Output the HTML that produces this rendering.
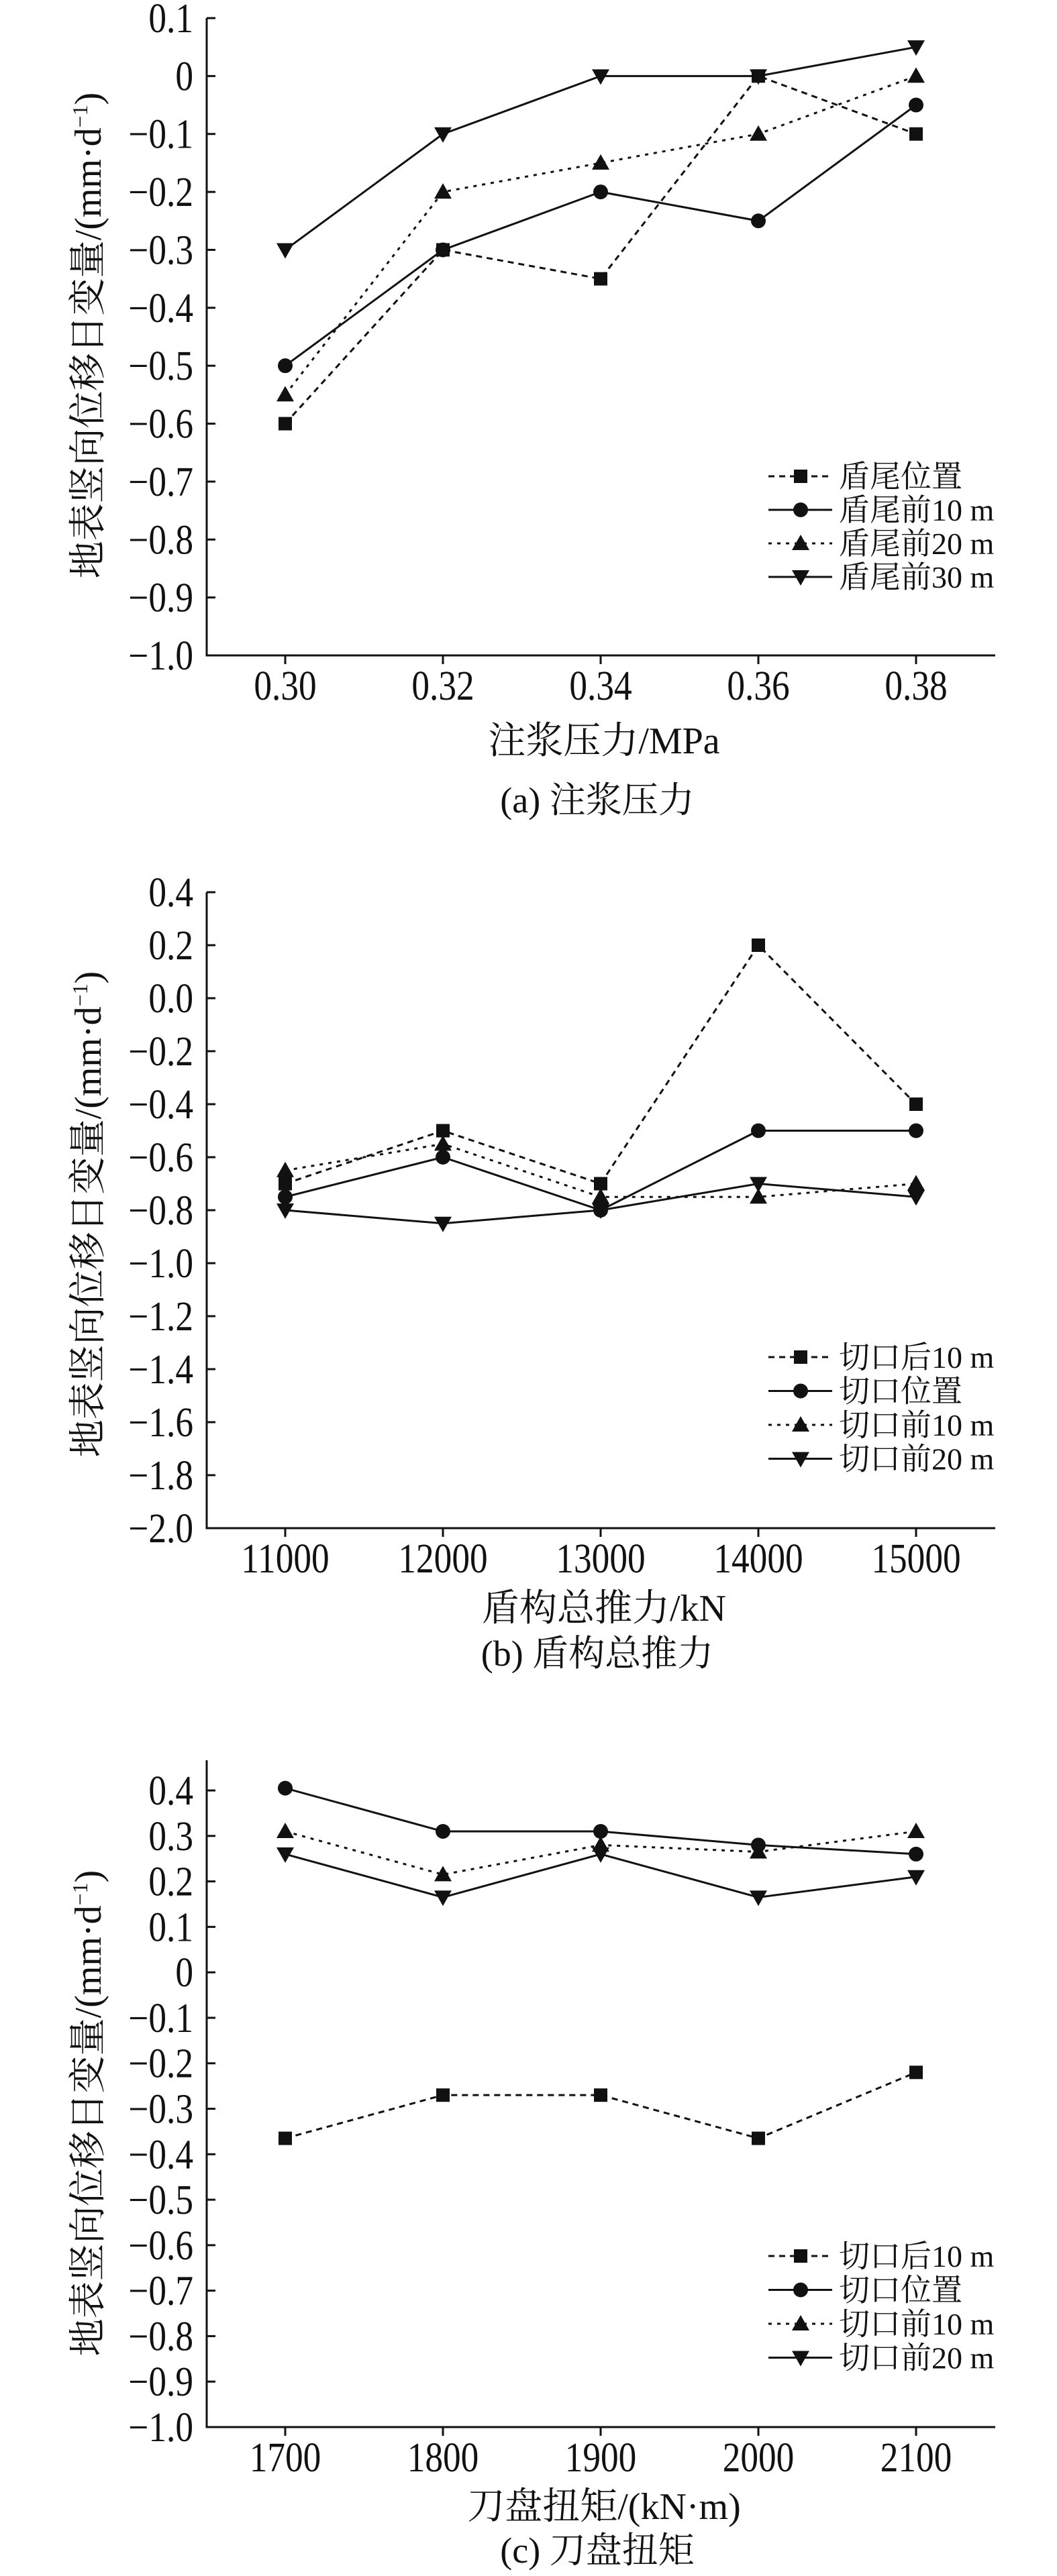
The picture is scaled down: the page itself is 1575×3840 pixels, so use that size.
<!DOCTYPE html>
<html><head><meta charset="utf-8"><style>
html,body{margin:0;padding:0;background:#fff;}
svg{display:block;}
text{font-family:"Liberation Serif","Noto Serif CJK SC",serif;fill:#111;}
</style></head><body>
<svg id="fig" xmlns="http://www.w3.org/2000/svg" width="1575" height="3840" viewBox="0 0 1575 3840"></svg>
<script>
// Chart (a)
const aCategories = ["0.30","0.32","0.34","0.36","0.38"];
const aTicks = [0.1,0,-0.1,-0.2,-0.3,-0.4,-0.5,-0.6,-0.7,-0.8,-0.9,-1.0];
const aTickLabels = ["0.1","0","−0.1","−0.2","−0.3","−0.4","−0.5","−0.6","−0.7","−0.8","−0.9","−1.0"];
const aNames = ["盾尾位置","盾尾前10 m","盾尾前20 m","盾尾前30 m"];
const aS1 = [-0.6,-0.3,-0.35,0,-0.1];
const aS2 = [-0.5,-0.3,-0.2,-0.25,-0.05];
const aS3 = [-0.55,-0.2,-0.15,-0.1,0];
const aS4 = [-0.3,-0.1,0,0,0.05];
// Chart (b)
const bCategories = ["11000","12000","13000","14000","15000"];
const bTicks = [0.4,0.2,0,-0.2,-0.4,-0.6,-0.8,-1.0,-1.2,-1.4,-1.6,-1.8,-2.0];
const bTickLabels = ["0.4","0.2","0.0","−0.2","−0.4","−0.6","−0.8","−1.0","−1.2","−1.4","−1.6","−1.8","−2.0"];
const bNames = ["切口后10 m","切口位置","切口前10 m","切口前20 m"];
const bS1 = [-0.7,-0.5,-0.7,0.2,-0.4];
const bS2 = [-0.75,-0.6,-0.8,-0.5,-0.5];
const bS3 = [-0.65,-0.55,-0.75,-0.75,-0.7];
const bS4 = [-0.8,-0.85,-0.8,-0.7,-0.75];
// Chart (c)
const cCategories = ["1700","1800","1900","2000","2100"];
const cTicks = [0.4,0.3,0.2,0.1,0,-0.1,-0.2,-0.3,-0.4,-0.5,-0.6,-0.7,-0.8,-0.9,-1.0];
const cTickLabels = ["0.4","0.3","0.2","0.1","0","−0.1","−0.2","−0.3","−0.4","−0.5","−0.6","−0.7","−0.8","−0.9","−1.0"];
const cNames = ["切口后10 m","切口位置","切口前10 m","切口前20 m"];
const cS1 = [-0.365,-0.27,-0.27,-0.365,-0.22];
const cS2 = [0.405,0.31,0.31,0.28,0.26];
const cS3 = [0.31,0.215,0.28,0.265,0.31];
const cS4 = [0.26,0.165,0.26,0.165,0.21];

const NS="http://www.w3.org/2000/svg";
const svg=document.getElementById('fig');
function mk(tag,attrs,parent){const e=document.createElementNS(NS,tag);for(const k in attrs)e.setAttribute(k,attrs[k]);(parent||svg).appendChild(e);return e;}
const styles=[{dash:"9 7",m:"sq"},{dash:"",m:"ci"},{dash:"5 8",m:"tu"},{dash:"",m:"td"}];
function marker(g,type,x,y){
  let e;
  if(type==="sq"){e=mk('rect',{x:x-10,y:y-10,width:20,height:20,fill:"#111"},g);}
  else if(type==="ci"){e=mk('circle',{cx:x,cy:y,r:11,fill:"#111"},g);}
  else if(type==="tu"){e=mk('polygon',{points:`${x},${y-13} ${x-13},${y+10} ${x+13},${y+10}`,fill:"#111"},g);}
  else {e=mk('polygon',{points:`${x},${y+13} ${x-13},${y-10} ${x+13},${y-10}`,fill:"#111"},g);}
  
  
}
function chart(id,cfg){
  const g=mk('g',{});
  
  
  const x0=308,x1=1483,cx0=425,cstep=235;
  const yv=v=>cfg.yTop+(cfg.vMax-v)/(cfg.vMax-cfg.vMin)*(cfg.yBot-cfg.yTop);
  const xv=i=>cx0+i*cstep;
  const ax=mk('path',{d:`M${x0},${cfg.axisTop} L${x0},${cfg.yBot} L${x1},${cfg.yBot}`,stroke:"#111","stroke-width":3,fill:"none"},g);
  
  
  cfg.ticks.forEach((t,i)=>{
    const y=yv(t);
    mk('line',{x1:x0,y1:y,x2:x0+13,y2:y,stroke:"#111","stroke-width":3},g);
    const tl=mk('text',{x:0,y:0,"text-anchor":"end","font-size":62,transform:`translate(288,${y+21}) scale(0.86,1)`},g);
    tl.textContent=cfg.tickLabels[i];
    
    
  });
  cfg.cats.forEach((c,i)=>{
    const x=xv(i);
    mk('line',{x1:x,y1:cfg.yBot,x2:x,y2:cfg.yBot+13,stroke:"#111","stroke-width":3},g);
    const tl=mk('text',{x:0,y:0,"text-anchor":"middle","font-size":62,transform:`translate(${x},${cfg.yBot+66}) scale(0.86,1)`},g);
    tl.textContent=c;
    
    
  });
  cfg.series.forEach((s,k)=>{
    const st=styles[k];
    const d=s.map((v,i)=>(i?"L":"M")+xv(i)+","+yv(v)).join(" ");
    const p=mk('path',{d:d,stroke:"#111","stroke-width":3,fill:"none","stroke-dasharray":st.dash},g);
    
    
    s.forEach((v,i)=>marker(g,st.m,xv(i),yv(v)));
    const ly=cfg.legY+k*cfg.legStep;
    const ll=mk('line',{x1:1145,y1:ly,x2:1240,y2:ly,stroke:"#111","stroke-width":3,"stroke-dasharray":st.dash},g);
    
    
    marker(g,st.m,1193,ly);
    const lt=mk('text',{x:1250,y:ly+16,"font-size":46},g);
    lt.textContent=cfg.names[k];
    
    
  });
  const yt=mk('text',{x:0,y:0,"text-anchor":"middle","font-size":56,transform:`translate(150,${cfg.ytitleY}) rotate(-90)`},g);
  yt.innerHTML='地表竖向位移日变量/(mm·d<tspan font-size="32" dy="-20">−1</tspan><tspan dy="20">)</tspan>';
  
  
  const xt=mk('text',{x:900,y:cfg.xtitleY+18,"text-anchor":"middle","font-size":56},g);
  xt.textContent=cfg.xtitle;
  
  
  const cp=mk('text',{x:890,y:cfg.capY+18,"text-anchor":"middle","font-size":54},g);
  cp.textContent=cfg.caption;
  
  
}
chart('chart-a',{yTop:27,yBot:977,axisTop:27,vMax:0.1,vMin:-1.0,ticks:aTicks,tickLabels:aTickLabels,cats:aCategories,series:[aS1,aS2,aS3,aS4],names:aNames,legY:710,legStep:50,ytitleY:500,xtitleY:1105,capY:1193,xtitle:"注浆压力/MPa",caption:"(a) 注浆压力"});
chart('chart-b',{yTop:1330,yBot:2278,axisTop:1330,vMax:0.4,vMin:-2.0,ticks:bTicks,tickLabels:bTickLabels,cats:bCategories,series:[bS1,bS2,bS3,bS4],names:bNames,legY:2023,legStep:50.5,ytitleY:1810,xtitleY:2398,capY:2465,xtitle:"盾构总推力/kN",caption:"(b) 盾构总推力"});
chart('chart-c',{yTop:2669,yBot:3618,axisTop:2624,vMax:0.4,vMin:-1.0,ticks:cTicks,tickLabels:cTickLabels,cats:cCategories,series:[cS1,cS2,cS3,cS4],names:cNames,legY:3363,legStep:50.5,ytitleY:3150,xtitleY:3737,capY:3802,xtitle:"刀盘扭矩/(kN·m)",caption:"(c) 刀盘扭矩"});
</script>
</body></html>
